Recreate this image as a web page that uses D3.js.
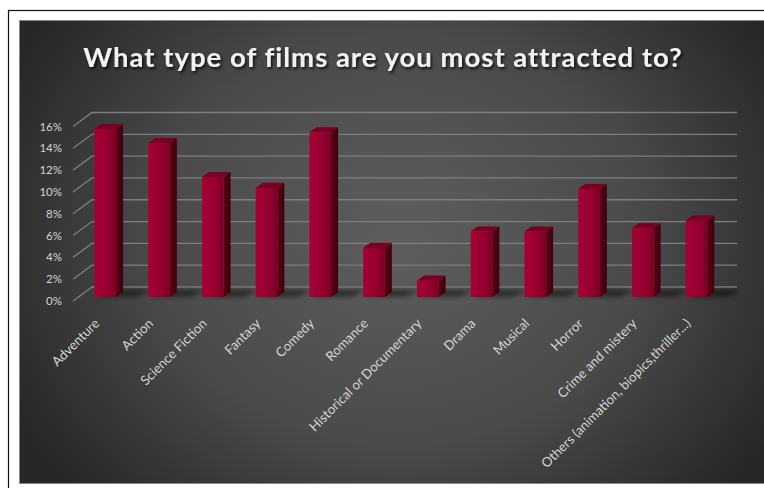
<!DOCTYPE html>
<html>
<head>
<meta charset="utf-8">
<script src="https://cdn.jsdelivr.net/npm/d3@7"></script>
<style>
  html, body { margin: 0; padding: 0; background: #fff; }
  svg { display: block; }
  text { font-family: Lato, "Open Sans", sans-serif; }
</style>
</head>
<body>
<svg id="chart" width="764" height="488"></svg>
<script>
// Survey answers: share of respondents per film type (percent)
const categories = [
  "Adventure", "Action", "Science Fiction", "Fantasy", "Comedy", "Romance",
  "Historical or Documentary", "Drama", "Musical", "Horror",
  "Crime and mistery", "Others (animation, biopics,thriller...)"
];
const shares = [15.4, 14.1, 11.0, 10.0, 15.1, 4.5, 1.5, 6.0, 6.0, 9.9, 6.3, 7.0];
const yTicks = [0, 2, 4, 6, 8, 10, 12, 14, 16];
const title = "What type of films are you most attracted to?";

const svg = d3.select("#chart");
const defs = svg.append("defs");

// --- panel background ---
const bg = defs.append("radialGradient").attr("id", "bgGrad")
  .attr("gradientUnits", "userSpaceOnUse")
  .attr("cx", 400).attr("cy", 240).attr("r", 440)
  .attr("gradientTransform", "translate(400,240) scale(1,0.85) translate(-400,-240)");
bg.append("stop").attr("offset", 0).attr("stop-color", "#5e5e5e");
bg.append("stop").attr("offset", 0.55).attr("stop-color", "#4a4a4a");
bg.append("stop").attr("offset", 1).attr("stop-color", "#262626");

const frontGrad = defs.append("linearGradient").attr("id", "frontGrad")
  .attr("x1", 0).attr("x2", 1).attr("y1", 0).attr("y2", 0);
frontGrad.append("stop").attr("offset", 0).attr("stop-color", "#a60035");
frontGrad.append("stop").attr("offset", 0.6).attr("stop-color", "#960030");
frontGrad.append("stop").attr("offset", 1).attr("stop-color", "#7c0026");

const sideGrad = defs.append("linearGradient").attr("id", "sideGrad")
  .attr("x1", 0).attr("x2", 1).attr("y1", 0).attr("y2", 0);
sideGrad.append("stop").attr("offset", 0).attr("stop-color", "#5a0016");
sideGrad.append("stop").attr("offset", 1).attr("stop-color", "#3e000c");

defs.append("filter").attr("id", "shadowBlur")
  .attr("x", "-50%").attr("y", "-100%").attr("width", "200%").attr("height", "300%")
  .append("feGaussianBlur").attr("stdDeviation", 2.5);

const tf = defs.append("filter").attr("id", "titleShadow")
  .attr("x", "-10%").attr("y", "-30%").attr("width", "120%").attr("height", "160%");
tf.append("feDropShadow").attr("dx", 1.5).attr("dy", 2)
  .attr("stdDeviation", 1.5).attr("flood-color", "#000").attr("flood-opacity", 0.8);

// outer frame line
svg.append("rect").attr("x", 8.5).attr("y", 10.5).attr("width", 800).attr("height", 500)
  .attr("fill", "none").attr("stroke", "#111").attr("stroke-width", 1.2);

svg.append("rect").attr("x", 19.5).attr("y", 20.5).attr("width", 760).attr("height", 463)
  .attr("fill", "url(#bgGrad)").attr("stroke", "#8a8a8a").attr("stroke-width", 1);

// --- title ---
svg.append("text")
  .attr("x", 383).attr("y", 67)
  .attr("text-anchor", "middle")
  .attr("font-size", 27.5).attr("font-weight", 700)
  .attr("letter-spacing", 1)
  .attr("fill", "#f2f2f2")
  .attr("filter", "url(#titleShadow)")
  .text(title);

// --- 3D geometry ---
const origin = { x: 73, y: 301 };   // front-left corner of the floor
const depth = { x: 19, y: -14 };    // vector from front plane to back wall
const plotW = 645, plotH = 174.5;

const x = d3.scaleBand().domain(categories).range([0, plotW]).padding(0);
const y = d3.scaleLinear().domain([0, 16]).range([0, plotH]);

// project (horizontal offset, height, depth fraction) into screen space
function P(px, h, f) {
  return [origin.x + px + depth.x * f, origin.y - h + depth.y * f];
}
const poly = pts => "M" + pts.map(p => p.join(",")).join("L") + "Z";

// gridlines on the back wall plus the diagonal front ticks
const grid = svg.append("g");
yTicks.forEach(t => {
  const h = y(t);
  grid.append("path")
    .attr("d", "M" + P(0, h, 0).join(",") + "L" + P(0, h, 1).join(",") + "L" + P(plotW, h, 1).join(","))
    .attr("fill", "none").attr("stroke", "#7e7e7e").attr("stroke-width", 1.3);
});

// y-axis labels
const pct = d3.format(".0%");
svg.append("g").selectAll("text").data(yTicks).join("text")
  .attr("x", origin.x - 11)
  .attr("y", t => origin.y - y(t))
  .attr("dy", "0.35em")
  .attr("text-anchor", "end")
  .attr("font-size", 11.5)
  .attr("fill", "#d4d4d4")
  .text(t => pct(t / 100));

// --- bars ---
const f0 = 0.285, f1 = 0.65;
const barFrac = 0.404;
const bw = x.bandwidth() * barFrac;
const bars = svg.append("g");

const items = categories.map((c, i) => ({ c, v: shares[i] }));

// floor shadows
bars.selectAll("path.shadow").data(items).join("path")
  .attr("class", "shadow")
  .attr("d", d => {
    const l = x(d.c) + (x.bandwidth() - bw) / 2;
    return poly([P(l + 2, 0, f0 + 0.05), P(l + bw + 20, 0, f0 + 0.05),
                 P(l + bw + 26, 0, f1 + 0.12), P(l + 4, 0, f1 + 0.12)]);
  })
  .attr("fill", "#000").attr("opacity", 0.55)
  .attr("filter", "url(#shadowBlur)");

const g = bars.selectAll("g.bar").data(items).join("g").attr("class", "bar");
g.each(function (d) {
  const l = x(d.c) + (x.bandwidth() - bw) / 2;
  const r = l + bw;
  const h = y(d.v);
  const s = d3.select(this);
  // right side face
  s.append("path")
    .attr("d", poly([P(r, 0, f0), P(r, 0, f1), P(r, h, f1), P(r, h, f0)]))
    .attr("fill", "url(#sideGrad)");
  // top face
  s.append("path")
    .attr("d", poly([P(l, h, f0), P(r, h, f0), P(r, h, f1), P(l, h, f1)]))
    .attr("fill", "#7a0022");
  // front face
  const [fx, fy] = P(l, h, f0);
  s.append("rect")
    .attr("x", fx).attr("y", fy)
    .attr("width", bw).attr("height", h)
    .attr("fill", "url(#frontGrad)");
});

// --- category labels ---
svg.append("g").selectAll("text").data(categories).join("text")
  .attr("transform", c => {
    const cx = origin.x + x(c) + x.bandwidth() / 2 - 3;
    return `translate(${cx},${origin.y + 20}) rotate(-45)`;
  })
  .attr("text-anchor", "end")
  .attr("dy", "0.35em")
  .attr("font-size", 13.2)
  .attr("fill", "#d4d4d4")
  .text(c => c);
</script>
</body>
</html>
